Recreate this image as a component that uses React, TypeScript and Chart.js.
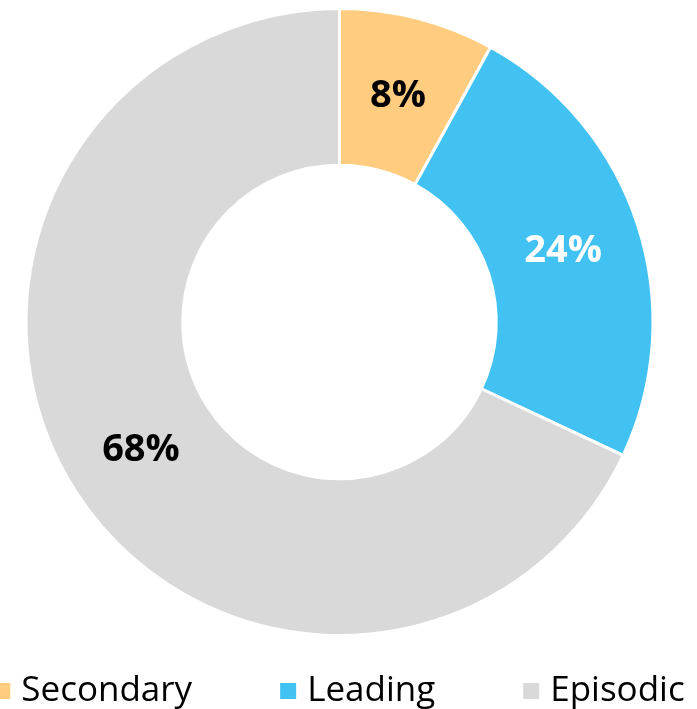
import React, { useEffect, useRef } from "react";
import { Chart, registerables } from "chart.js";

Chart.register(...registerables);

const categories = ["Secondary", "Leading", "Episodic"];
const values = [8, 24, 68];
const sliceColors = ["#FFCC80", "#42C2F2", "#D9D9D9"];
const labelColors = ["#000000", "#FFFFFF", "#000000"];

const FONT = '"Open Sans", "DejaVu Sans", sans-serif';

const valueLabels = {
  id: "valueLabels",
  afterDatasetsDraw(chart: any) {
    const { ctx } = chart;
    const meta = chart.getDatasetMeta(0);
    const data = chart.data.datasets[0].data as number[];
    const total = data.reduce((a, b) => a + b, 0);
    ctx.save();
    ctx.font = `bold 38px ${FONT}`;
    ctx.textAlign = "center";
    ctx.textBaseline = "middle";
    meta.data.forEach((arc: any, i: number) => {
      const p = arc.tooltipPosition();
      ctx.fillStyle = labelColors[i];
      ctx.fillText(Math.round((data[i] / total) * 100) + "%", p.x, p.y + 2);
    });
    ctx.restore();
  },
};

const bottomLegend = {
  id: "bottomLegend",
  afterDraw(chart: any) {
    const { ctx, chartArea } = chart;
    const boxSize = 16;
    const gap = 11;
    const spacing = 88;
    ctx.save();
    ctx.font = `35px ${FONT}`;
    const widths = categories.map((c) => boxSize + gap + ctx.measureText(c).width);
    const total = widths.reduce((a, b) => a + b, 0) + spacing * (categories.length - 1);
    const cx = (chartArea.left + chartArea.right) / 2;
    let x = cx - total / 2;
    const baseY = 701;
    ctx.textBaseline = "alphabetic";
    ctx.textAlign = "left";
    categories.forEach((c, i) => {
      ctx.fillStyle = sliceColors[i];
      ctx.fillRect(x, baseY - 18, boxSize, boxSize);
      ctx.fillStyle = "#000000";
      ctx.fillText(c, x + boxSize + gap, baseY);
      x += widths[i] + spacing;
    });
    ctx.restore();
  },
};

export default function App() {
  const ref = useRef<HTMLCanvasElement | null>(null);
  useEffect(() => {
    if (!ref.current) return;
    const chart = new Chart(ref.current, {
      type: "doughnut",
      data: {
        labels: categories,
        datasets: [
          {
            data: values,
            backgroundColor: sliceColors,
            borderColor: "#FFFFFF",
            borderWidth: 3,
          },
        ],
      },
      options: {
        responsive: false,
        animation: false,
        cutout: "50%",
        layout: { padding: { top: 7, bottom: 72, left: 0, right: 18 } },
        plugins: {
          legend: { display: false },
          tooltip: { enabled: false },
        },
      },
      plugins: [valueLabels, bottomLegend],
    });
    return () => chart.destroy();
  }, []);
  return (
    <div style={{ position: "absolute", left: 0, top: 0, width: 697, height: 709 }}>
      <canvas ref={ref} width={697} height={709} />
    </div>
  );
}
